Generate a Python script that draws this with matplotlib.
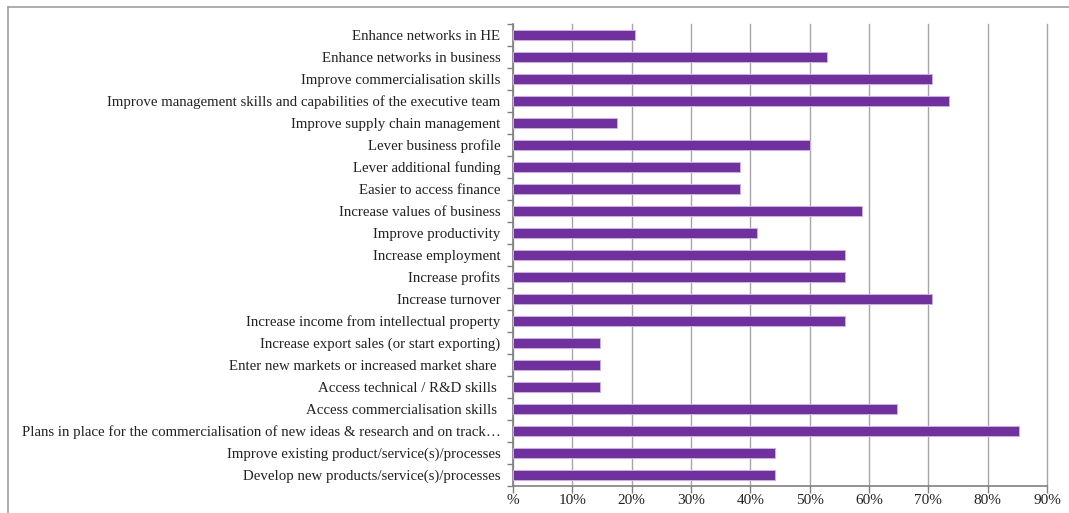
import matplotlib
matplotlib.use("Agg")
import matplotlib.pyplot as plt
import numpy as np
from matplotlib.lines import Line2D

categories = [
    "Enhance networks in HE",
    "Enhance networks in business",
    "Improve commercialisation skills",
    "Improve management skills and capabilities of the executive team",
    "Improve supply chain management",
    "Lever business profile",
    "Lever additional funding",
    "Easier to access finance",
    "Increase values of business",
    "Improve productivity",
    "Increase employment",
    "Increase profits",
    "Increase turnover",
    "Increase income from intellectual property",
    "Increase export sales (or start exporting)",
    "Enter new markets or increased market share ",
    "Access technical / R&D skills ",
    "Access commercialisation skills ",
    "Plans in place for the commercialisation of new ideas & research and on track\u2026",
    "Improve existing product/service(s)/processes",
    "Develop new products/service(s)/processes",
]
values = [20.6, 52.9, 70.6, 73.5, 17.6, 50.0, 38.2, 38.2, 58.8, 41.2, 55.9,
          55.9, 70.6, 55.9, 14.7, 14.7, 14.7, 64.7, 85.3, 44.1, 44.1]
xticks = [0, 10, 20, 30, 40, 50, 60, 70, 80, 90]
xticklabels = ["%", "10%", "20%", "30%", "40%", "50%", "60%", "70%", "80%", "90%"]

plt.rcParams['font.family'] = ['Liberation Serif', 'DejaVu Serif']

fig = plt.figure(figsize=(10.69, 5.13), dpi=100)
ax = fig.add_axes([513/1069, 1 - 486/513, (1047 - 513)/1069, (486 - 24)/513])

n = len(categories)
ypos = np.arange(n)[::-1]
ax.barh(ypos, values, height=0.46, color='#7030A0', edgecolor='#CDB0E3', linewidth=0.7, zorder=3)

ax.set_xlim(0, 90)
ax.set_ylim(-0.5, n - 0.5)
ax.set_xticks(xticks)
ax.set_xticklabels(xticklabels, fontsize=11, color='#222222')
ax.set_yticks(ypos)
ax.set_yticklabels(categories, fontsize=10.7, color='#222222')
ax.tick_params(axis='y', which='major', length=0, pad=9)
ax.set_yticks(np.arange(-0.5, n, 1.0), minor=True)
ax.tick_params(axis='y', which='minor', length=4, color='#808080', width=1)
ax.tick_params(axis='x', length=5, color='#808080', width=1, pad=1)

ax.grid(axis='x', color='#A6A6A6', linewidth=1, zorder=0)
for gl in ax.get_xgridlines():
    gl.set_clip_on(False)
for s in ['top', 'right']:
    ax.spines[s].set_visible(False)
for s in ['left', 'bottom']:
    ax.spines[s].set_color('#808080')
    ax.spines[s].set_linewidth(1.2)

# outer frame (top and left edges)
fig.add_artist(Line2D([8/1069, 1.0], [1 - 6.5/513, 1 - 6.5/513], color='#A0A0A0', lw=1.2, transform=fig.transFigure))
fig.add_artist(Line2D([8/1069, 8/1069], [0, 1 - 6.5/513], color='#A0A0A0', lw=1.2, transform=fig.transFigure))

fig.savefig("out.png", dpi=100)
